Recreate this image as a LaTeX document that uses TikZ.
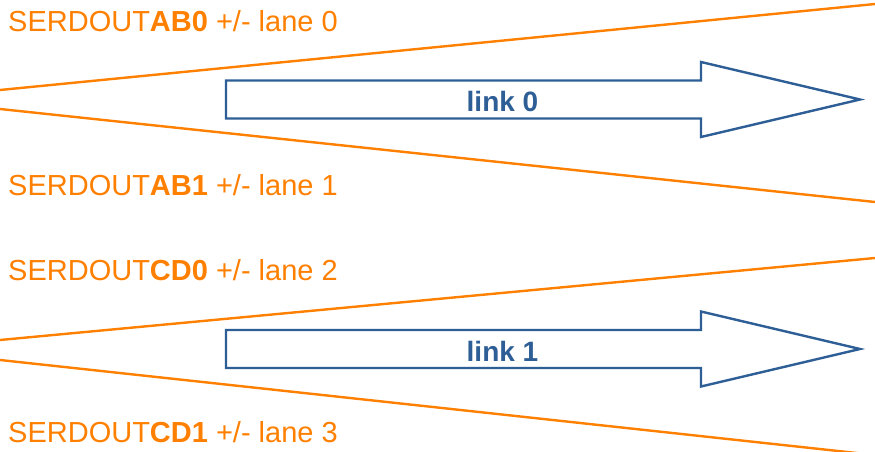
\documentclass[tikz,border=0pt]{standalone}
\usepackage{fontspec}
\setmainfont{Liberation Sans}
\definecolor{laneorange}{RGB}{255,128,0}
\definecolor{linkblue}{RGB}{46,94,150}
\begin{document}
\begin{tikzpicture}[x=1pt,y=-1pt,
  lanelabel/.style={anchor=base west,inner sep=0pt,text=laneorange,font=\fontsize{29}{32}\selectfont},
  laneline/.style={draw=laneorange,line width=2.4pt},
  linkarrow/.style={draw=linkblue,line width=2.4pt,line join=miter,fill=white},
  linklabel/.style={inner sep=0pt,text=linkblue,font=\fontsize{28}{30}\selectfont\bfseries}]
  \useasboundingbox[fill=white] (0,0) rectangle (875,452);

  % lane pairs fanning out from the left edge
  \coordinate (l0a) at (0,90);   \coordinate (l0b) at (875,4);
  \coordinate (l1a) at (0,109);  \coordinate (l1b) at (875,202);
  \coordinate (l2a) at (0,340);  \coordinate (l2b) at (875,258);
  \coordinate (l3a) at (0,360);  \coordinate (l3b) at (875,455);
  \draw[laneline] (l0a) -- (l0b);
  \draw[laneline] (l1a) -- (l1b);
  \draw[laneline] (l2a) -- (l2b);
  \draw[laneline] (l3a) -- (l3b);

  % block arrows for the two links
  \foreach \n/\yc in {0/99.5, 1/349} {
    \draw[linkarrow] (226,\yc-19) -- (701,\yc-19) -- (701,\yc-37.5) -- (860,\yc)
      -- (701,\yc+37.5) -- (701,\yc+19) -- (226,\yc+19) -- cycle;
  }
  \node[linklabel] (link0) at (502.5,101) {link 0};
  \node[linklabel] (link1) at (502.5,351) {link 1};

  % lane labels
  \node[lanelabel] (lane0) at (8,32)  {SERDOUT\textbf{AB0} +/- lane 0};
  \node[lanelabel] (lane1) at (8,195) {SERDOUT\textbf{AB1} +/- lane 1};
  \node[lanelabel] (lane2) at (8,280) {SERDOUT\textbf{CD0} +/- lane 2};
  \node[lanelabel] (lane3) at (8,442) {SERDOUT\textbf{CD1} +/- lane 3};
\end{tikzpicture}
\end{document}
